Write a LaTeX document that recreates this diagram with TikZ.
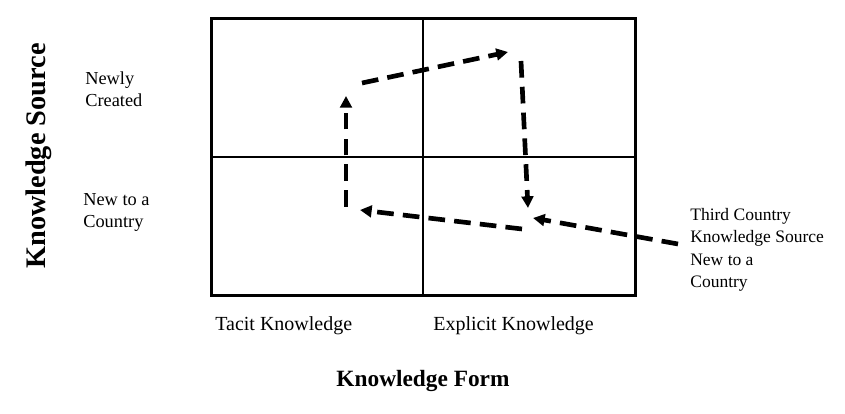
\documentclass[tikz,border=0pt]{standalone}
\usepackage{fontspec}
\setmainfont{Liberation Serif}
\usetikzlibrary{arrows.meta}
\tikzset{
	flow/.style={line width=2.8pt,dash pattern=on 10pt off 5.5pt,-{Triangle[length=7pt,width=7pt]}},
	lab/.style={align=left,anchor=north west,inner sep=0pt,font=\fontsize{11}{13.5}\selectfont},
	axis/.style={font=\fontsize{14}{16}\selectfont\bfseries,inner sep=0pt}
}
\begin{document}
\begin{tikzpicture}[x=0.6pt,y=-0.6pt]
	\useasboundingbox (0,0) rectangle (845,414);
	\draw[line width=1.8pt] (211,19) rectangle (635,296);
	\draw[line width=0.9pt] (423,19) -- (423,296);
	\draw[line width=0.9pt] (211,157) -- (635,157);
	\coordinate (a1) at (346,207);
	\coordinate (a2) at (346,96);
	\coordinate (b1) at (362,83);
	\coordinate (b2) at (508,52);
	\coordinate (c1) at (521,61);
	\coordinate (c2) at (528,208);
	\coordinate (d1) at (522,229);
	\coordinate (d2) at (360,210);
	\coordinate (e1) at (678,244);
	\coordinate (e2) at (533,218);
	\draw[flow] (a1) -- (a2);
	\draw[flow] (b1) -- (b2);
	\draw[flow] (c1) -- (c2);
	\draw[flow] (d1) -- (d2);
	\draw[flow] (e1) -- (e2);
	\node[axis,rotate=90,font=\fontsize{17}{19}\selectfont\bfseries] (src) at (39,156) {Knowledge Source};
	\node[axis] (form) at (423,381) {Knowledge Form};
	\node[lab] (newly) at (85,71) {Newly\\Created};
	\node[lab] (newto) at (83,193) {New to a\\Country};
	\node[lab,font=\fontsize{12}{15}\selectfont,anchor=base west] (tacit) at (215,331) {Tacit Knowledge};
	\node[lab,font=\fontsize{12}{15}\selectfont,anchor=base west] (expl) at (433,331) {Explicit Knowledge};
	\node[lab,font=\fontsize{10.5}{13.5}\selectfont] (third) at (690,208) {Third Country\\Knowledge Source\\New to a\\Country};
\end{tikzpicture}
\end{document}
